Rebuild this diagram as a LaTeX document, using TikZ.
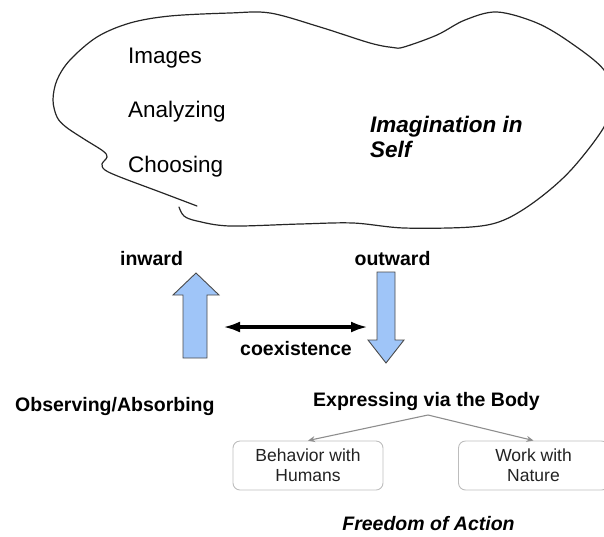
\documentclass[tikz,border=0pt]{standalone}
\usepackage{fontspec}
\setmainfont{Liberation Sans}
\usetikzlibrary{arrows.meta}
\definecolor{arrowblue}{HTML}{9FC5F8}
\definecolor{arrowedge}{HTML}{4A4A4A}
\definecolor{boxgray}{HTML}{BDBDBD}
\definecolor{linkgray}{HTML}{8E8E8E}
\definecolor{inktext}{HTML}{222222}
\begin{document}
\begin{tikzpicture}[x=1pt,y=-1pt,
  plaintext/.style={font=\fontsize{22.5}{27}\selectfont, inner sep=0pt, anchor=base west},
  boldlabel/.style={font=\bfseries\fontsize{19.5}{23}\selectfont, inner sep=0pt, anchor=base},
  blockarrow/.style={fill=arrowblue, draw=arrowedge, line width=0.9pt, line join=miter},
  leafbox/.style={draw=boxgray, line width=0.9pt, rounded corners=7pt, minimum width=150pt,
    minimum height=49pt, inner sep=0pt, align=center, text=inktext,
    font=\fontsize{17.5}{20}\selectfont},
  link/.style={draw=linkgray, line width=1.1pt, -{Stealth[length=7pt,width=6pt]}}
]
\useasboundingbox (0,0) rectangle (604,536);

% thought cloud around the inner activities
\draw[line width=1.2pt, draw=black!85, line cap=round]
  plot[smooth, tension=0.55] coordinates {
    (179,207) (184,216) (197,221) (230,226) (300,224) (353,223) (404,228)
    (471,227) (504,220) (537,200) (571,170) (604,127) (612,98) (604,70)
    (571,43) (537,23) (497,12) (465,20) (437,35) (404,47) (393,47.5)
    (370,43) (320,27) (270,13) (230,13) (170,16) (130,23) (97,37) (70,60)
    (57,80) (53,100) (57,117) (66,127) (84,139) (103,151) (107,157)
    (102,164) (105,170) (120,177) (160,192) (197,206)};

\node[plaintext] (images) at (128,63) {Images};
\node[plaintext] (analyzing) at (128,117.5) {Analyzing};
\node[plaintext] (choosing) at (128,172) {Choosing};
\node[inner sep=0pt, anchor=north west, align=left,
      font=\bfseries\itshape\fontsize{22.5}{25}\selectfont] (self) at (370,115.5)
      {Imagination in\\Self};

% block arrows
\draw[blockarrow] (183,358) -- (183,295) -- (173,295) -- (196,273) -- (219,295)
  -- (207,295) -- (207,358) -- cycle;
\draw[blockarrow] (377,272) -- (395,272) -- (395,340) -- (404,340) -- (386,363)
  -- (368,340) -- (377,340) -- cycle;

\node[boldlabel] (inward) at (151.5,265) {inward};
\node[boldlabel] (outward) at (392.5,265) {outward};

% two-way link between the arrows
\coordinate (coexL) at (223,327);
\coordinate (coexR) at (368,327);
\draw[line width=3.4pt, {Latex[length=17pt,width=11pt]}-{Latex[length=17pt,width=11pt]}]
  (coexL) -- (coexR);
\node[boldlabel] (coex) at (296,355) {coexistence};

\node[boldlabel, anchor=base west] (observing) at (15,411) {Observing/Absorbing};
\node[boldlabel, anchor=base west] (expressing) at (313,406) {Expressing via the Body};

\node[leafbox] (humans) at (308,465.5) {Behavior with\\Humans};
\node[leafbox] (nature) at (533.5,465.5) {Work with\\Nature};

\coordinate (split) at (428,415);
\draw[link] (split) -- (humans.north);
\draw[link] (split) -- (nature.north);

\node[boldlabel, font=\bfseries\itshape\fontsize{19.5}{23}\selectfont] (freedom)
  at (428.5,530) {Freedom of Action};
\end{tikzpicture}
\end{document}
